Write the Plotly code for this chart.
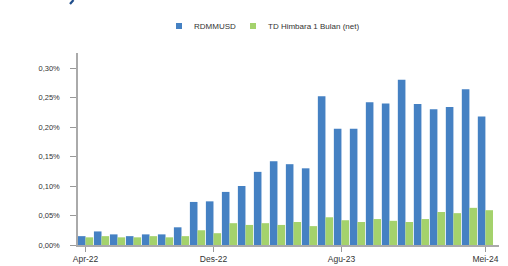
import plotly.graph_objects as go

months = ["Apr-22", "Mei-22", "Jun-22", "Jul-22", "Agu-22", "Sep-22", "Okt-22", "Nov-22",
          "Des-22", "Jan-23", "Feb-23", "Mar-23", "Apr-23", "Mei-23", "Jun-23", "Jul-23",
          "Agu-23", "Sep-23", "Okt-23", "Nov-23", "Des-23", "Jan-24", "Feb-24", "Mar-24",
          "Apr-24", "Mei-24"]

rdmmusd = [0.015, 0.023, 0.018, 0.015, 0.018, 0.018, 0.030, 0.073, 0.074, 0.090, 0.100, 0.124,
           0.142, 0.137, 0.130, 0.252, 0.197, 0.197, 0.242, 0.240, 0.280, 0.239, 0.230, 0.234,
           0.264, 0.218]

td_himbara = [0.013, 0.015, 0.013, 0.013, 0.015, 0.013, 0.015, 0.025, 0.020, 0.037, 0.034, 0.037,
              0.034, 0.039, 0.032, 0.047, 0.042, 0.039, 0.044, 0.041, 0.039, 0.044, 0.056, 0.054,
              0.063, 0.059]

series_names = ["RDMMUSD", "TD Himbara 1 Bulan (net)"]
x_ticks = ["Apr-22", "Des-22", "Agu-23", "Mei-24"]
y_tickvals = [0.0, 0.05, 0.10, 0.15, 0.20, 0.25, 0.30]
y_ticktext = ["0,00%", "0,05%", "0,10%", "0,15%", "0,20%", "0,25%", "0,30%"]

BLUE = "#4581c3"
GREEN = "#a4d26c"

W, H = 508, 266
L, R, T, B = 78, 9, 53, 21
PW, PH = W - L - R, H - T - B


def px_x(p):
    return (p - L) / PW


def px_y(p):
    return (H - B - p) / PH


fig = go.Figure()
fig.add_trace(go.Bar(x=months, y=rdmmusd, name=series_names[0], marker_color=BLUE,
                     marker_line_width=0, showlegend=False))
fig.add_trace(go.Bar(x=months, y=td_himbara, name=series_names[1], marker_color=GREEN,
                     marker_line_width=0, showlegend=False))

# manual legend (small square swatches + labels)
legend_items = [(series_names[0], BLUE, 176, 193), (series_names[1], GREEN, 250, 267)]
for name, color, sq_x, txt_x in legend_items:
    fig.add_shape(type="rect", xref="paper", yref="paper",
                  x0=px_x(sq_x), x1=px_x(sq_x + 6), y0=px_y(29), y1=px_y(23),
                  fillcolor=color, line_width=0)
    fig.add_annotation(text=name, xref="paper", yref="paper", x=px_x(txt_x), y=px_y(26),
                       xanchor="left", yanchor="middle", showarrow=False, xshift=-1,
                       font=dict(size=8, color="#333333"))

# cropped remnant of a title stroke at the very top-left
fig.add_shape(type="line", xref="paper", yref="paper",
              x0=px_x(70), y0=px_y(4), x1=px_x(73.5), y1=px_y(0),
              line=dict(color="#1f4e8c", width=2.2))

fig.update_layout(
    width=W, height=H,
    margin=dict(l=L, r=R, t=T, b=B, autoexpand=False),
    paper_bgcolor="white", plot_bgcolor="white",
    font=dict(family="Liberation Sans, Arial, sans-serif", size=8, color="#333333"),
    barmode="group", bargap=0.05, bargroupgap=0.0,
    showlegend=False,
)

fig.update_xaxes(type="category", categoryorder="array", categoryarray=months,
                 range=[-0.47, 25.85], tickmode="array", tickvals=x_ticks,
                 ticks="outside", ticklen=5, tickcolor="#999999", tickwidth=1,
                 showline=True, linecolor="#aaaaaa", linewidth=1.5, automargin=False,
                 showgrid=False, zeroline=False, tickfont=dict(size=8.5, color="#333333"))
fig.update_yaxes(range=[0, 0.3255], tickmode="array", tickvals=y_tickvals, ticktext=y_ticktext,
                 ticks="outside", ticklen=6, tickcolor="#999999", tickwidth=1,
                 showline=True, linecolor="#aaaaaa", linewidth=1.5, automargin=False,
                 showgrid=False, zeroline=False, ticklabelstandoff=9,
                 tickfont=dict(size=7.5, color="#333333"))

fig.write_html("out.html", config={"displayModeBar": False},
               post_script="document.body.style.margin='0';")
